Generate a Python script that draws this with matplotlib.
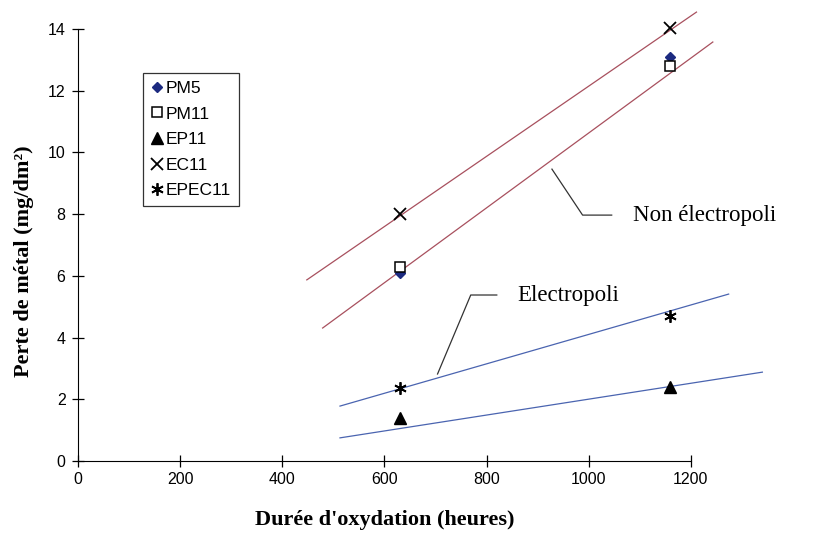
import matplotlib.pyplot as plt

# durée d'oxydation (heures) et perte de métal (mg/dm2)
hours = [630, 1160]
pm5 = [6.1, 13.1]
pm11 = [6.3, 12.8]
ep11 = [1.4, 2.4]
ec11 = [8.0, 14.05]
epec11 = [2.35, 4.7]

# droites de tendance (extrémités)
red_up_x = [448, 1211]
red_up_y = [5.87, 14.55]
red_lo_x = [479, 1243]
red_lo_y = [4.31, 13.58]
blue_up_x = [513, 1274]
blue_up_y = [1.78, 5.41]
blue_lo_x = [513, 1340]
blue_lo_y = [0.75, 2.88]

x_ticks = [0, 200, 400, 600, 800, 1000, 1200]
y_ticks = [0, 2, 4, 6, 8, 10, 12, 14]

red = '#a8505e'
blue = '#4a64b0'
sans = ['Liberation Sans', 'DejaVu Sans']
serif = ['Liberation Serif', 'DejaVu Serif']

fig = plt.figure(figsize=(8.19, 5.37), dpi=100)
ax = fig.add_axes([78 / 819, 76 / 537, 715 / 819, 452 / 537])
ax.set_xlim(0, 1400)
ax.set_ylim(0, 14.65)

ax.plot(red_up_x, red_up_y, color=red, lw=0.9)
ax.plot(red_lo_x, red_lo_y, color=red, lw=0.9)
ax.plot(blue_up_x, blue_up_y, color=blue, lw=0.9)
ax.plot(blue_lo_x, blue_lo_y, color=blue, lw=0.9)

ax.plot(hours, pm5, ls='none', marker='D', ms=5, color='#1c2a80', label='PM5')
ax.plot(hours, pm11, ls='none', marker='s', ms=7, mfc='white', mec='black', mew=1.1, label='PM11')
ax.plot(hours, ep11, ls='none', marker='^', ms=8, color='black', label='EP11')
ax.plot(hours, ec11, ls='none', marker='x', ms=8, color='black', mew=1.3, label='EC11')
ax.plot(hours, epec11, ls='none', marker=(6, 2, 0), ms=9, color='black', mew=1.3, label='EPEC11')

# traits de rappel
ax.plot([928, 988, 1045], [9.46, 7.97, 7.97], color='#333333', lw=0.9)
ax.text(1086, 7.97, 'Non électropoli', family=serif, fontsize=16.5, ha='left', va='center')
ax.plot([704, 769, 820], [2.82, 5.38, 5.38], color='#333333', lw=0.9)
ax.text(861, 5.38, 'Electropoli', family=serif, fontsize=16.5, ha='left', va='center')

for s in ['top', 'right']:
    ax.spines[s].set_visible(False)
ax.spines['left'].set_bounds(0, 14)
ax.spines['bottom'].set_bounds(0, 1200)
ax.set_xticks(x_ticks)
ax.set_yticks(y_ticks)
ax.tick_params(direction='inout', length=8, width=0.9, labelsize=11.5, pad=5)
for lab in ax.get_xticklabels() + ax.get_yticklabels():
    lab.set_family(sans)
ax.tick_params(axis='x', pad=4)

ax.set_xlabel("Durée d'oxydation (heures)", family=serif, fontweight='bold', fontsize=16)
ax.set_ylabel('Perte de métal (mg/dm²)', family=serif, fontweight='bold', fontsize=16)
ax.xaxis.set_label_coords(600 / 1400, -49 / 452)
ax.yaxis.set_label_coords(-44 / 715, (461 - 261) / 452)

leg = ax.legend(loc='upper left', bbox_to_anchor=(143 / 819, 1 - 73 / 537), bbox_transform=fig.transFigure,
                frameon=True, fancybox=False, edgecolor='black', handlelength=0.7, handletextpad=0.15,
                borderpad=0.45, labelspacing=0.6, prop={'family': sans, 'size': 12.5}, borderaxespad=0)
leg.get_frame().set_linewidth(0.9)

fig.savefig('out.png', dpi=100)
